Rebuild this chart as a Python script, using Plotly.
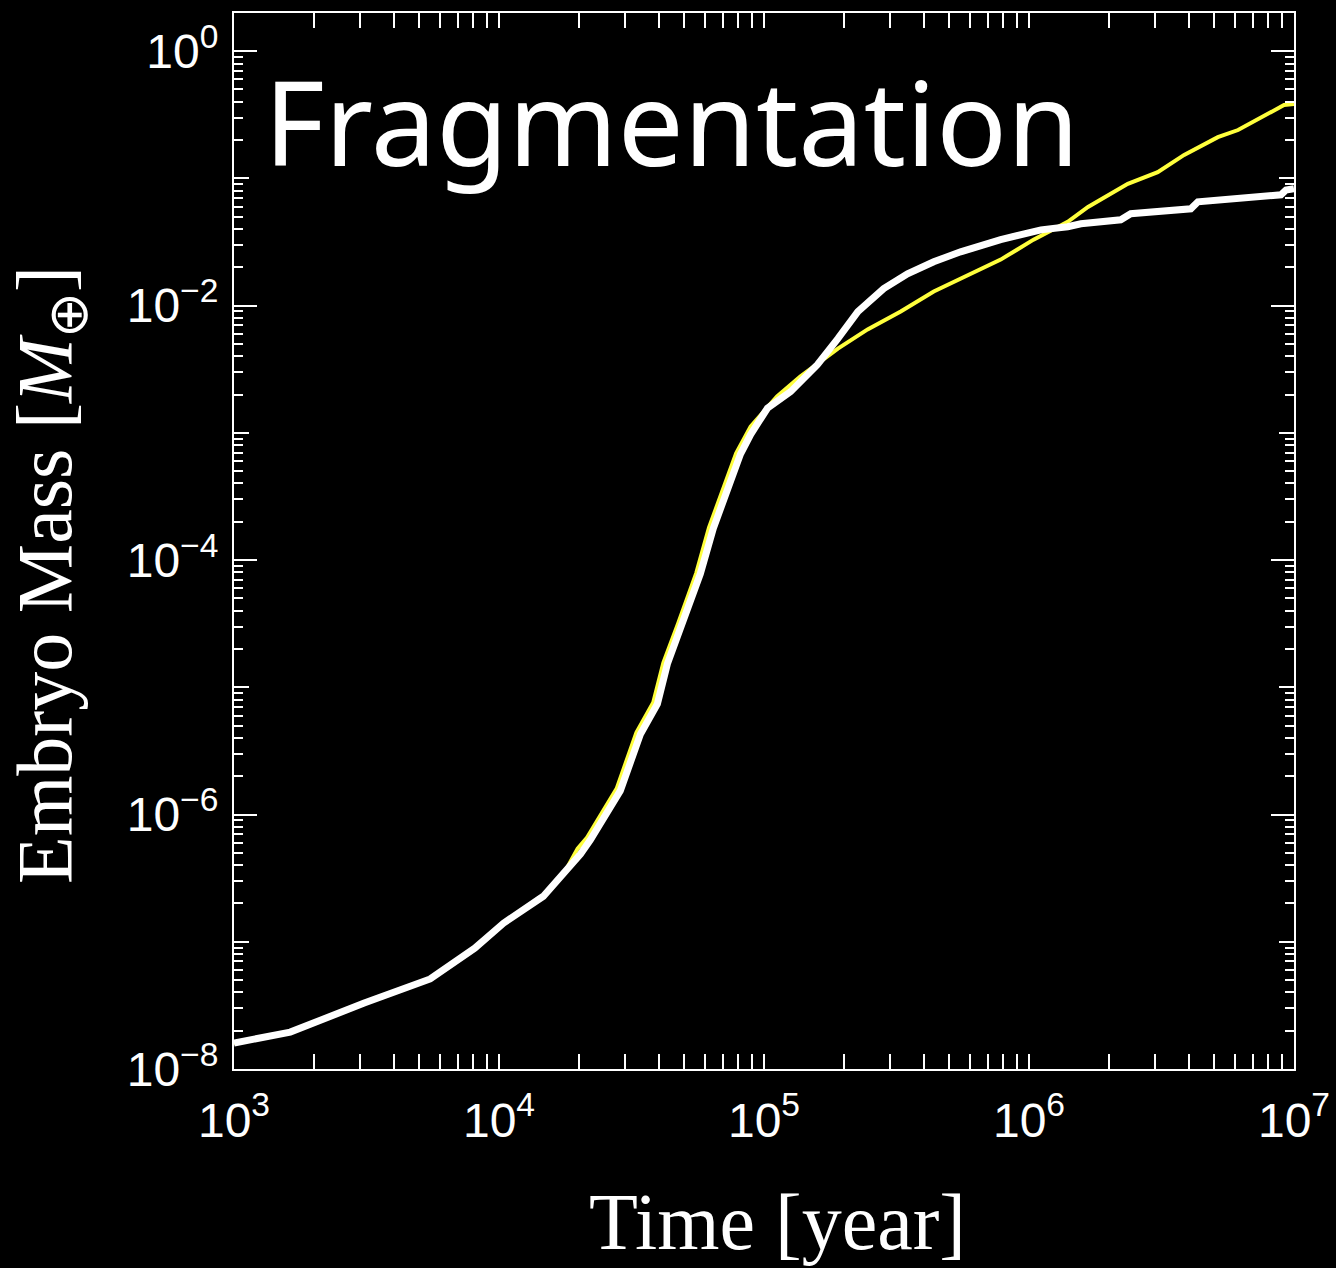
import plotly.graph_objects as go

# ---- data ----
time_white = [1.0e3, 1.63e3, 3.1e3, 5.5e3, 8.1e3, 1.04e4, 1.47e4, 2.03e4, 2.21e4, 2.87e4,
              3.42e4, 3.96e4, 4.32e4, 4.92e4, 5.75e4, 6.44e4, 8.15e4, 8.9e4, 1.03e5, 1.26e5,
              1.59e5, 1.90e5, 2.26e5, 2.83e5, 3.48e5, 4.37e5, 5.52e5, 7.82e5, 1.11e6, 1.40e6,
              1.57e6, 2.22e6, 2.42e6, 4.08e6, 4.34e6, 8.93e6, 9.33e6, 1.0e7]
mass_white = [1.6e-8, 1.95e-8, 3.3e-8, 5.1e-8, 8.9e-8, 1.4e-7, 2.28e-7, 4.9e-7, 6.3e-7, 1.54e-6,
              4.3e-6, 7.4e-6, 1.53e-5, 3.15e-5, 7.8e-5, 1.78e-4, 6.8e-4, 9.7e-4, 1.56e-3, 2.11e-3,
              3.44e-3, 5.5e-3, 8.98e-3, 1.36e-2, 1.78e-2, 2.21e-2, 2.65e-2, 3.3e-2, 3.94e-2, 4.17e-2,
              4.4e-2, 4.73e-2, 5.27e-2, 5.77e-2, 6.55e-2, 7.43e-2, 8.1e-2, 8.3e-2]

time_yellow = [1.0e3, 1.63e3, 3.1e3, 5.5e3, 8.1e3, 1.04e4, 1.47e4, 1.78e4, 1.98e4, 2.15e4,
               2.78e4, 3.30e4, 3.82e4, 4.17e4, 4.75e4, 5.55e4, 6.2e4, 7.85e4, 8.9e4, 1.12e5,
               1.37e5, 1.90e5, 2.46e5, 3.28e5, 4.37e5, 6.03e5, 7.82e5, 1.04e6, 1.40e6, 1.67e6,
               2.36e6, 3.06e6, 3.85e6, 5.16e6, 6.15e6, 9.17e6, 1.0e7]
mass_yellow = [1.6e-8, 1.95e-8, 3.3e-8, 5.1e-8, 8.9e-8, 1.4e-7, 2.28e-7, 3.6e-7, 5.4e-7, 6.6e-7,
               1.6e-6, 4.4e-6, 7.6e-6, 1.56e-5, 3.2e-5, 7.9e-5, 1.8e-4, 6.9e-4, 1.12e-3, 1.93e-3,
               2.77e-3, 4.6e-3, 6.5e-3, 8.98e-3, 1.29e-2, 1.78e-2, 2.30e-2, 3.3e-2, 4.56e-2, 5.97e-2,
               9.06e-2, 0.112, 0.153, 0.211, 0.240, 0.377, 0.384]

x_major = [1e3, 1e4, 1e5, 1e6, 1e7]
x_labels = ["10<sup>3</sup>", "10<sup>4</sup>", "10<sup>5</sup>", "10<sup>6</sup>", "10<sup>7</sup>"]
y_labeled = [1e-8, 1e-6, 1e-4, 1e-2, 1e0]
y_labels = ["10<sup>−8</sup>", "10<sup>−6</sup>", "10<sup>−4</sup>", "10<sup>−2</sup>", "10<sup>0</sup>"]
y_odd_decades = [1e-7, 1e-5, 1e-3, 1e-1]

x_minor = [m * 10 ** e for e in range(3, 7) for m in range(2, 10)]
y_minor = [m * 10 ** e for e in range(-8, 1) for m in range(2, 10)]

WHITE = "#ffffff"
YELLOW = "#ffff3c"
tick_font = dict(family="Liberation Sans, Arial, sans-serif", size=48, color=WHITE)

fig = go.Figure()
fig.add_trace(go.Scatter(x=time_yellow, y=mass_yellow, mode="lines",
                         line=dict(color=YELLOW, width=4), showlegend=False))
fig.add_trace(go.Scatter(x=time_white, y=mass_white, mode="lines",
                         line=dict(color=WHITE, width=7), showlegend=False))
# invisible trace to activate overlay axis carrying the medium decade ticks
fig.add_trace(go.Scatter(x=time_white, y=mass_white, mode="lines", yaxis="y2",
                         line=dict(color="rgba(0,0,0,0)", width=0), showlegend=False,
                         hoverinfo="skip"))

fig.update_layout(
    width=1336, height=1268,
    paper_bgcolor="black", plot_bgcolor="black",
    margin=dict(l=234, r=42, t=13, b=199, autoexpand=False),
    xaxis=dict(type="log", range=[3, 7], tickmode="array", tickvals=x_major, ticktext=x_labels,
               ticks="inside", ticklen=15, tickwidth=2, tickcolor=WHITE, automargin=False,
               showline=True, linecolor=WHITE, linewidth=2, mirror="allticks",
               showgrid=False, zeroline=False, tickfont=tick_font, ticklabelstandoff=8,
               minor=dict(tickmode="array", tickvals=x_minor, ticks="inside", ticklen=8,
                          tickwidth=2, tickcolor=WHITE, showgrid=False)),
    yaxis=dict(type="log", range=[-8, 0.3], tickmode="array", tickvals=y_labeled,
               ticktext=y_labels, automargin=False,
               ticks="inside", ticklen=23, tickwidth=2, tickcolor=WHITE,
               showline=True, linecolor=WHITE, linewidth=2, mirror="allticks",
               showgrid=False, zeroline=False, tickfont=tick_font, ticklabelstandoff=4,
               minor=dict(tickmode="array", tickvals=y_minor, ticks="inside", ticklen=9,
                          tickwidth=2, tickcolor=WHITE, showgrid=False)),
    yaxis2=dict(type="log", range=[-8, 0.3], overlaying="y", anchor="x", side="left",
                tickmode="array", tickvals=y_odd_decades, showticklabels=False, automargin=False,
                ticks="inside", ticklen=15, tickwidth=2, tickcolor=WHITE,
                showline=False, mirror="allticks", showgrid=False, zeroline=False),
    annotations=[
        dict(text="Embryo Mass [<i>M</i><sub>⊕</sub>]", textangle=-90,
             xref="paper", yref="paper", x=(50 - 234) / 1060, y=(1069 - 575) / 1056,
             xanchor="center", yanchor="middle", showarrow=False,
             font=dict(family="Liberation Serif, Times New Roman, serif", size=78, color=WHITE)),
        dict(text="Time [year]",
             xref="paper", yref="paper", x=(777 - 234) / 1060, y=(1069 - 1222) / 1056,
             xanchor="center", yanchor="middle", showarrow=False,
             font=dict(family="Liberation Serif, Times New Roman, serif", size=80, color=WHITE)),
        dict(text="Fragmentation",
             xref="paper", yref="paper", x=(262 - 234) / 1060, y=(1069 - 120) / 1056,
             xanchor="left", yanchor="middle", showarrow=False,
             font=dict(family="Noto Sans, sans-serif", size=117, color=WHITE)),
    ],
)

fig.write_html("out.html")
